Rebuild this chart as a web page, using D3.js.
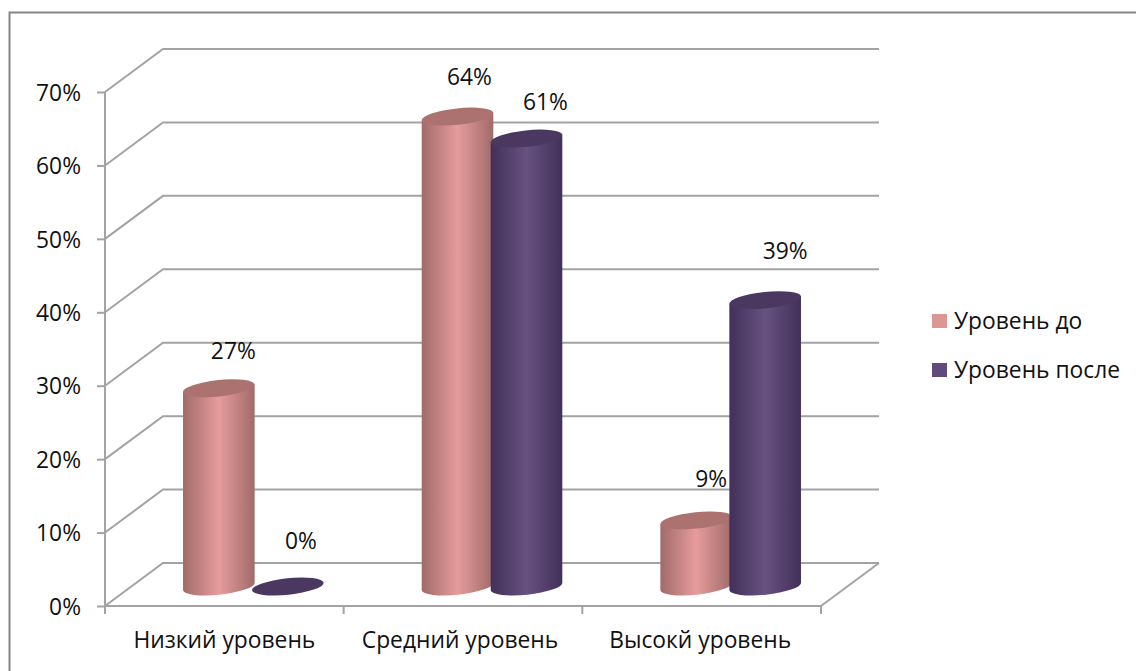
<!DOCTYPE html>
<html lang="ru">
<head>
<meta charset="utf-8">
<script src="https://cdn.jsdelivr.net/npm/d3@7/dist/d3.min.js"></script>
<style>
  html, body { margin: 0; padding: 0; background: #fff; }
  svg { display: block; }
  text { font-family: "Open Sans", "Noto Sans", sans-serif; fill: #111; }
</style>
</head>
<body>
<svg id="chart" width="1136" height="671"></svg>
<script>
// Chart data
const categories = ["Низкий уровень", "Средний уровень", "Высокй уровень"];
const seriesNames = ["Уровень до", "Уровень после"];
const valuesBefore = [27, 64, 9];
const valuesAfter = [0, 61, 39];
const yTicks = [0, 10, 20, 30, 40, 50, 60, 70];

// Layout of the oblique 3D box
const W = 1136, H = 671;
const front = { left: 105, right: 821, bottom: 606, top: 92 };
const depth = { x: 58, y: -43 };
const barBaseLift = 19.5;
const barRx = 36, barRy = 8.2, barTilt = -6;
const barSpread = 34.5;
const fontSize = 22.8;
// Hand placement of data labels relative to each bar's top
const labelNudgeBefore = [[14.5, -37], [12, -40], [15, -41]];
const labelNudgeAfter = [[13, -45.5], [19, -37], [20, -49]];
// Category captions sit slightly off their band centres
const categoryNudge = [0, -3, -1.5];

const svg = d3.select("#chart");
const grid = "#a3a3a3";

const y = d3.scaleLinear().domain([0, 70]).range([front.bottom, front.top]);
const x = d3.scaleBand().domain(categories).range([front.left, front.right]);

// Outer frame, open on the right and at the bottom
svg.append("path")
  .attr("d", d3.line()([[9.5, H], [9.5, 12.5], [W, 12.5]]))
  .attr("fill", "none").attr("stroke", "#868686").attr("stroke-width", 2);

// Back wall lines and the oblique side wall lines
const wall = svg.append("g").attr("fill", "none").attr("stroke", grid).attr("stroke-width", 2);
yTicks.forEach(t => {
  wall.append("path").attr("d", d3.line()([
    [front.left, y(t)],
    [front.left + depth.x, y(t) + depth.y],
    [front.right + depth.x, y(t) + depth.y]
  ]));
});
// Right edge of the floor
wall.append("path").attr("d", d3.line()([
  [front.right, front.bottom],
  [front.right + depth.x, front.bottom + depth.y]
]));

// Value axis
const yAxis = svg.append("g")
  .attr("transform", `translate(${front.left},0)`)
  .call(d3.axisLeft(y).tickValues(yTicks).tickSize(8).tickPadding(8).tickFormat(d => d + "%"));
yAxis.selectAll("path, line").attr("stroke", grid).attr("stroke-width", 2);
yAxis.select(".domain").attr("d", `M0,${front.top}V${front.bottom}`);
yAxis.selectAll("text").attr("font-size", fontSize).attr("dx", -8).attr("dy", "0.36em");

// Category axis: ticks sit on the band boundaries, labels in the band centres
const xAxis = svg.append("g")
  .attr("transform", `translate(0,${front.bottom})`)
  .call(d3.axisBottom(x).tickSize(0).tickPadding(26));
xAxis.select(".domain").attr("d", `M${front.left},0H${front.right}`)
  .attr("stroke", grid).attr("stroke-width", 2);
xAxis.selectAll("text").attr("font-size", fontSize)
  .attr("dx", (d, i) => categoryNudge[i]);
xAxis.selectAll(".boundary")
  .data(d3.range(categories.length + 1))
  .join("line")
  .attr("x1", i => front.left + i * x.bandwidth())
  .attr("x2", i => front.left + i * x.bandwidth())
  .attr("y1", 0).attr("y2", 8)
  .attr("stroke", grid).attr("stroke-width", 2);

// Cylinder shading
const defs = svg.append("defs");
function shade(id, edge, mid) {
  const g = defs.append("linearGradient").attr("id", id)
    .attr("x1", 0).attr("x2", 1).attr("y1", 0).attr("y2", 0);
  g.append("stop").attr("offset", "0%").attr("stop-color", edge);
  g.append("stop").attr("offset", "50%").attr("stop-color", mid);
  g.append("stop").attr("offset", "100%").attr("stop-color", edge);
}
shade("bodyBefore", "#a06b6a", "#e69c9b");
shade("bodyAfter", "#41305a", "#675180");

const series = [
  { name: seriesNames[0], values: valuesBefore, nudge: labelNudgeBefore, offset: -barSpread, body: "url(#bodyBefore)", cap: "#ac7270", key: "#dc9795" },
  { name: seriesNames[1], values: valuesAfter, nudge: labelNudgeAfter, offset: barSpread, body: "url(#bodyAfter)", cap: "#4a3860", key: "#604a7b" }
];

const rise = v => y(0) - y(v);
const baseY = front.bottom - barBaseLift;
const tiltRad = barTilt * Math.PI / 180;
const ex = barRx * Math.cos(tiltRad), ey = barRx * Math.sin(tiltRad);

// Bars are painted group by group, left series first, so neighbours overlap correctly
categories.forEach((cat, i) => {
  const cx0 = x(cat) + x.bandwidth() / 2 + depth.x / 2;
  series.forEach(s => {
    const v = s.values[i];
    const cx = cx0 + s.offset;
    const topY = baseY - rise(v);
    if (v > 0) {
      svg.append("path")
        .attr("fill", s.body)
        .attr("d", `M${cx - ex},${topY - ey}L${cx - ex},${baseY - ey}` +
          `A${barRx},${barRy} ${barTilt} 0 0 ${cx + ex},${baseY + ey}` +
          `L${cx + ex},${topY + ey}Z`);
    }
    svg.append("ellipse")
      .attr("cx", cx).attr("cy", topY)
      .attr("rx", barRx).attr("ry", barRy)
      .attr("transform", `rotate(${barTilt} ${cx} ${topY})`)
      .attr("fill", s.cap);
  });
});

// Data labels
categories.forEach((cat, i) => {
  const cx0 = x(cat) + x.bandwidth() / 2 + depth.x / 2;
  series.forEach(s => {
    const v = s.values[i];
    svg.append("text")
      .attr("x", cx0 + s.offset + s.nudge[i][0])
      .attr("y", baseY - rise(v) + s.nudge[i][1])
      .attr("dy", "0.35em")
      .attr("text-anchor", "middle")
      .attr("font-size", fontSize)
      .text(v + "%");
  });
});

// Legend
const legend = svg.append("g").selectAll("g").data(series).join("g")
  .attr("transform", (d, i) => `translate(932,${321 + i * 49})`);
legend.append("rect")
  .attr("x", 0).attr("y", -7).attr("width", 15).attr("height", 14)
  .attr("fill", d => d.key);
legend.append("text")
  .attr("x", 22).attr("dy", "0.35em")
  .attr("font-size", fontSize)
  .text(d => d.name);
</script>
</body>
</html>
